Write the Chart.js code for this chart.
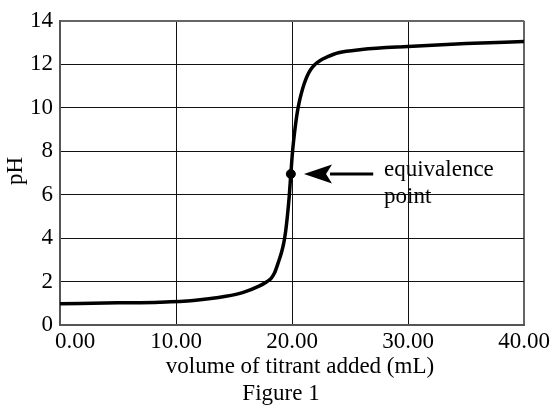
<!DOCTYPE html>
<html lang="en">
<head>
  <meta charset="UTF-8">
  <title>Titration curve - Figure 1</title>
  <script src="https://cdn.jsdelivr.net/npm/chart.js"></script>
  <style>
    html, body { margin: 0; padding: 0; background: #fff; }
    #wrap { width: 556px; height: 412px; }
  </style>
</head>
<body>
  <div id="wrap"><canvas id="myChart" width="556" height="412"></canvas></div>

  <script>
    // titration curve
    const volumeML = [0, 5, 8.6, 11.5, 14.3, 15.8, 17.2, 17.8, 18.2, 18.5, 18.8, 19.1, 19.3, 19.45, 19.6, 19.75, 19.9, 20.05, 20.23, 20.4, 20.6, 20.8, 21.05, 21.3, 21.6, 22.0, 22.5, 23, 24, 26, 30, 35, 40];
    const phValues = [0.98, 1.02, 1.05, 1.13, 1.32, 1.5, 1.8, 1.98, 2.15, 2.4, 2.85, 3.35, 3.8, 4.3, 5.0, 5.85, 6.95, 8.0, 8.9, 9.6, 10.2, 10.65, 11.1, 11.45, 11.75, 12.0, 12.2, 12.33, 12.53, 12.68, 12.82, 12.95, 13.05];

    // equivalence point
    const eqX = [19.9];
    const eqY = [6.95];

    // axis ticks
    const xTickValues = [0, 10, 20, 30, 40];
    const xTickLabels = ['0.00', '10.00', '20.00', '30.00', '40.00'];
    const yTickValues = [0, 2, 4, 6, 8, 10, 12, 14];

    const serif = '"Liberation Serif", "Times New Roman", serif';

    // x tick labels, axis titles and the arrow note
    const textPlugin = {
      id: 'textPlugin',
      afterDraw(chart) {
        const ctx = chart.ctx;
        const xs = chart.scales.x;
        const ys = chart.scales.y;
        ctx.save();
        ctx.fillStyle = '#000';
        ctx.font = '23px ' + serif;
        ctx.textBaseline = 'alphabetic';

        xTickValues.forEach((v, i) => {
          const px = xs.getPixelForValue(v);
          if (i === 0) {
            ctx.textAlign = 'left';
            ctx.fillText(xTickLabels[i], px - 5, 348);
          } else {
            ctx.textAlign = 'center';
            ctx.fillText(xTickLabels[i], px, 348);
          }
        });

        ctx.textAlign = 'center';
        ctx.fillText('volume of titrant added (mL)', 300, 373);
        ctx.fillText('Figure 1', 281, 400);

        ctx.save();
        ctx.translate(16, 171);
        ctx.rotate(-Math.PI / 2);
        ctx.textBaseline = 'middle';
        ctx.fillText('pH', 0, 0);
        ctx.restore();

        // arrow pointing at the equivalence point
        const ay = ys.getPixelForValue(eqY[0]);
        const tip = xs.getPixelForValue(21.03);
        const back = xs.getPixelForValue(23.45);
        const tail = xs.getPixelForValue(27.0);
        ctx.strokeStyle = '#000';
        ctx.lineWidth = 3;
        ctx.beginPath();
        ctx.moveTo(back - 2, ay);
        ctx.lineTo(tail, ay);
        ctx.stroke();
        ctx.beginPath();
        ctx.moveTo(tip, ay);
        ctx.lineTo(back, ay - 9.5);
        ctx.lineTo(back - 6, ay);
        ctx.lineTo(back, ay + 9.5);
        ctx.closePath();
        ctx.fill();

        ctx.textAlign = 'left';
        ctx.fillText('equivalence', 384, 176);
        ctx.fillText('point', 384, 203);
        ctx.restore();
      }
    };

    const ctx = document.getElementById('myChart').getContext('2d');
    new Chart(ctx, {
      type: 'scatter',
      data: {
        datasets: [
          {
            type: 'line',
            data: volumeML.map((v, i) => ({ x: v, y: phValues[i] })),
            borderColor: '#000',
            borderWidth: 3.5,
            pointRadius: 0,
            fill: false,
            cubicInterpolationMode: 'monotone',
            order: 2
          },
          {
            data: eqX.map((v, i) => ({ x: v, y: eqY[i] })),
            backgroundColor: '#000',
            borderColor: '#000',
            pointRadius: 4.5,
            order: 1
          }
        ]
      },
      options: {
        responsive: false,
        animation: false,
        events: [],
        layout: { padding: { top: 14, right: 32, left: 0, bottom: 0 } },
        plugins: {
          legend: { display: false },
          tooltip: { enabled: false }
        },
        scales: {
          x: {
            type: 'linear',
            min: 0,
            max: 40,
            afterFit(scale) { scale.height = 87; },
            afterBuildTicks(scale) { scale.ticks = xTickValues.map(v => ({ value: v })); },
            ticks: { display: false },
            grid: {
              drawTicks: false,
              color: c => (c.tick && c.tick.value === 40 ? '#666' : '#111'),
              lineWidth: c => (c.tick && c.tick.value === 40 ? 2 : 1)
            },
            border: { color: '#555', width: 2 }
          },
          y: {
            min: 0,
            max: 14,
            afterFit(scale) { scale.width = 60; },
            afterBuildTicks(scale) { scale.ticks = yTickValues.map(v => ({ value: v })); },
            ticks: {
              color: '#000',
              padding: 7,
              font: { family: serif, size: 23 }
            },
            grid: {
              drawTicks: false,
              color: c => (c.tick && c.tick.value === 14 ? '#666' : '#111'),
              lineWidth: c => (c.tick && c.tick.value === 14 ? 2 : 1)
            },
            border: { color: '#555', width: 2 }
          }
        }
      },
      plugins: [textPlugin]
    });
  </script>
</body>
</html>
